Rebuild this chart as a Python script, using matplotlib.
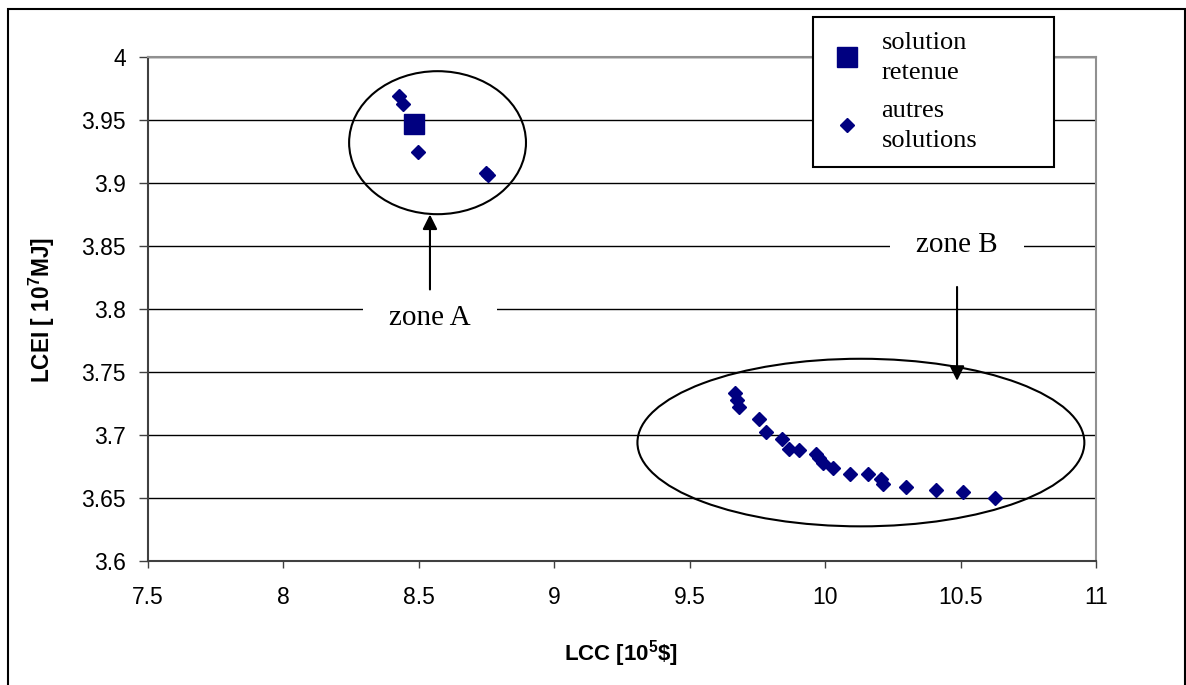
import matplotlib
matplotlib.use("Agg")
import matplotlib.pyplot as plt
from matplotlib.patches import Ellipse, Rectangle
from matplotlib.lines import Line2D
from matplotlib.ticker import FuncFormatter

# data
lcc_retenue = [8.482]
lcei_retenue = [3.947]

lcc_autres = [8.427, 8.441, 8.497, 8.748, 8.755,
              9.667, 9.673, 9.683, 9.757, 9.781, 9.839, 9.867, 9.904, 9.968, 9.978,
              9.993, 10.030, 10.091, 10.157, 10.208, 10.214, 10.297, 10.408, 10.510, 10.628]
lcei_autres = [3.969, 3.963, 3.925, 3.908, 3.906,
               3.733, 3.728, 3.722, 3.713, 3.702, 3.697, 3.689, 3.688, 3.685, 3.682,
               3.678, 3.674, 3.669, 3.669, 3.665, 3.661, 3.659, 3.656, 3.655, 3.650]

x_ticks = [7.5, 8, 8.5, 9, 9.5, 10, 10.5, 11]
y_ticks = [3.6, 3.65, 3.7, 3.75, 3.8, 3.85, 3.9, 3.95, 4]

# zones: (centre x, centre y, width, height), label position, arrow start/end
zone_a = (8.569, 3.932, 0.653, 0.1135)
zone_b = (10.132, 3.694, 1.650, 0.133)
label_a = (8.541, 3.793)
label_b = (10.487, 3.851)
arrow_a = ((8.541, 3.8155), (8.541, 3.875))
arrow_b = ((10.487, 3.8175), (10.487, 3.743))

navy = "#000080"
plt.rcParams["font.family"] = ["Liberation Sans", "DejaVu Sans"]
plt.rcParams["mathtext.fontset"] = "custom"
plt.rcParams["mathtext.rm"] = "Liberation Sans:bold"
plt.rcParams["mathtext.bf"] = "Liberation Sans:bold"
serif = ["Liberation Serif", "DejaVu Serif"]

fig = plt.figure(figsize=(11.86, 6.85), dpi=100)
ax = fig.add_axes([148 / 1186, 1 - 561 / 685, 948 / 1186, 504 / 685])

# outer frame round the whole chart
fig.patches.append(Rectangle((8 / 1186, -0.01), 1176.5 / 1186, 1.01 - 9 / 685,
                             transform=fig.transFigure, fill=False,
                             edgecolor="black", lw=1.5))

ax.set_xlim(7.5, 11)
ax.set_ylim(3.6, 4)
ax.set_xticks(x_ticks)
ax.set_yticks(y_ticks)
fmt = FuncFormatter(lambda v, p: "%g" % v)
ax.xaxis.set_major_formatter(fmt)
ax.yaxis.set_major_formatter(fmt)
ax.tick_params(axis="both", direction="out", labelsize=16.5, width=1, color="#404040")
ax.tick_params(axis="y", length=6.5, pad=9.5)
ax.tick_params(axis="x", length=5, pad=13)

ax.set_axisbelow(True)
ax.yaxis.grid(True, color="black", lw=1)
for side in ["top", "right"]:
    ax.spines[side].set_color("#909090")
    ax.spines[side].set_linewidth(1.5)
for side in ["left", "bottom"]:
    ax.spines[side].set_color("#404040")
    ax.spines[side].set_linewidth(1.5)

ax.plot(lcc_autres, lcei_autres, linestyle="none", marker="D", markersize=7.5,
        color=navy, zorder=4)
ax.plot(lcc_retenue, lcei_retenue, linestyle="none", marker="s", markersize=14,
        color=navy, zorder=4)

for cx, cy, w, h in [zone_a, zone_b]:
    ax.add_patch(Ellipse((cx, cy), w, h, fill=False, edgecolor="black", lw=1.5, zorder=3))

ax.text(label_a[0], label_a[1], "zone A", family=serif, fontsize=21, ha="center",
        va="center", zorder=3,
        bbox=dict(boxstyle="square,pad=0.9", facecolor="white", edgecolor="none"))
ax.text(label_b[0], label_b[1], "zone B", family=serif, fontsize=21, ha="center",
        va="center", zorder=3,
        bbox=dict(boxstyle="square,pad=0.9", facecolor="white", edgecolor="none"))

for start, end in [arrow_a, arrow_b]:
    ax.annotate("", xy=end, xytext=start, zorder=5,
                arrowprops=dict(arrowstyle="-|>", color="black", lw=1.5,
                                mutation_scale=22, shrinkA=0, shrinkB=0))

ax.set_xlabel(r"LCC [10$^{5}$\$]", fontsize=16, fontweight="bold")
ax.set_ylabel(r"LCEI [ 10$^{7}$MJ]", fontsize=16.3, fontweight="bold")
ax.xaxis.set_label_coords(0.499, -0.153)
ax.yaxis.set_label_coords(-0.096, 0.498)

handles = [Line2D([], [], linestyle="none", marker="s", markersize=14, color=navy),
           Line2D([], [], linestyle="none", marker="D", markersize=7, color=navy)]
leg = ax.legend(handles, ["solution\nretenue", "autres\nsolutions"],
                loc="upper left", mode="expand",
                bbox_to_anchor=(813 / 1186, 1 - 17 / 685, 241 / 1186, 0.0),
                bbox_transform=fig.transFigure, borderaxespad=0,
                prop={"family": serif, "size": 19}, fancybox=False,
                framealpha=1, edgecolor="black", borderpad=0.55,
                handlelength=1.5, handletextpad=0.55, labelspacing=0.6)
leg.get_frame().set_linewidth(1.5)
for t in leg.get_texts():
    t.set_linespacing(1.5)
leg.set_zorder(6)

fig.savefig("out.png", dpi=100)
